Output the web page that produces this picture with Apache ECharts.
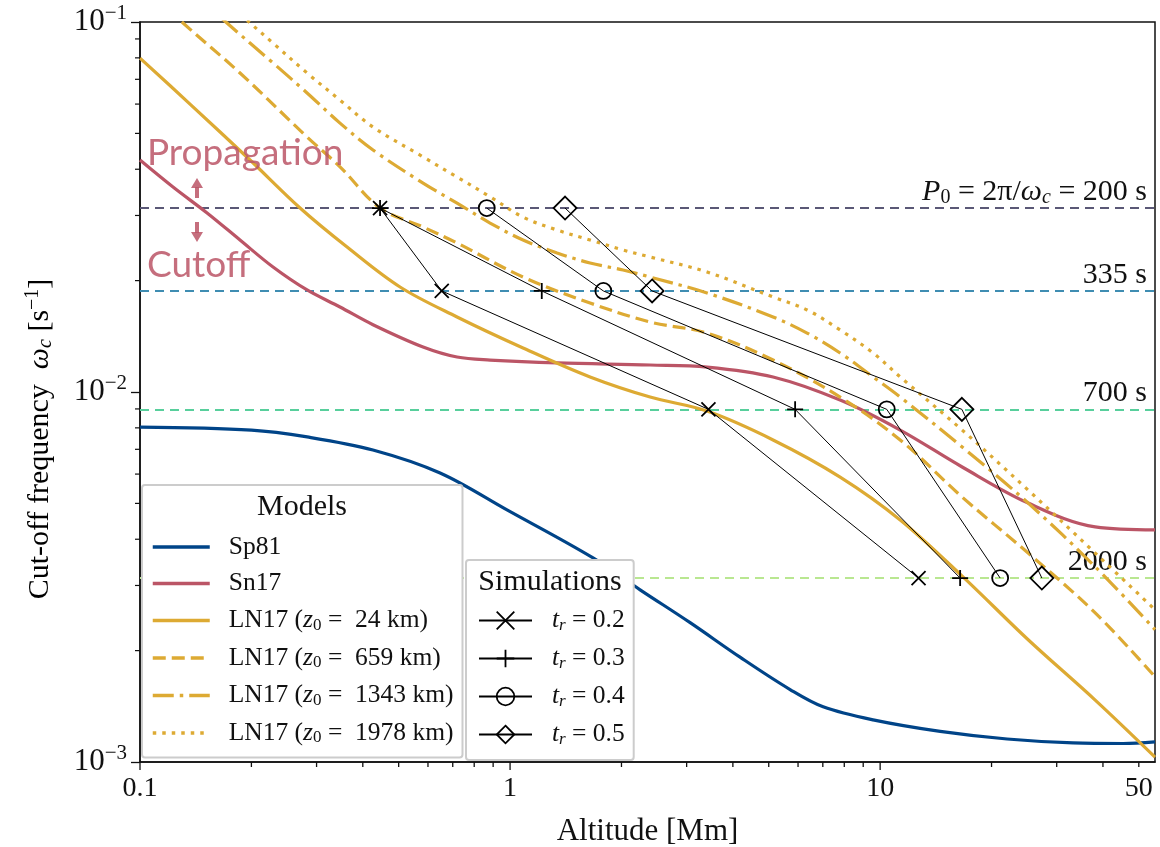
<!DOCTYPE html>
<html>
<head>
<meta charset="utf-8">
<script src="https://cdn.jsdelivr.net/npm/echarts@6.0.0/dist/echarts.min.js"></script>
<style>
html,body{margin:0;padding:0;background:#ffffff;}
#chart{width:1160px;height:847px;}
</style>
</head>
<body>
<div id="chart"></div>
<script>
// ================= DATA =================
const xMin = 0.1, xMax = 55.3, yMin = 0.001, yMax = 0.1;

// Sp81 model
const sp81X = [0.1, 0.2, 0.283, 0.426, 0.647, 0.981, 1.676, 2.246, 3.066, 4.183, 5.711, 7.013, 9.57, 14.53, 22.04, 33.23, 45.37, 55.3];
const sp81Y = [0.00804, 0.00789, 0.00756, 0.00697, 0.00604, 0.0048, 0.00356, 0.00292, 0.00238, 0.00192, 0.00157, 0.00141, 0.0013, 0.00121, 0.001154, 0.001126, 0.001122, 0.001133];

// Sn17 model
const sn17X = [0.1, 0.1228, 0.1518, 0.1863, 0.2288, 0.2828, 0.3471, 0.4262, 0.582, 0.719, 0.883, 1.34, 2.39, 3.406, 5.137, 7.796, 11.33, 16.66, 25.12, 38.12, 55.3];
const sn17Y = [0.04236, 0.03581, 0.03047, 0.02575, 0.02177, 0.01887, 0.01697, 0.0152, 0.01323, 0.01243, 0.0122, 0.01198, 0.01183, 0.01168, 0.01098, 0.00951, 0.00789, 0.00627, 0.00501, 0.00432, 0.00424];

// LN17, z0 = 24 km
const ln24X = [0.1, 0.1365, 0.1983, 0.2707, 0.3627, 0.5043, 0.719, 1.084, 1.645, 2.39, 3.406, 5.137, 7.796, 11.33, 16.66, 25.12, 38.12, 55.3];
const ln24Y = [0.0799, 0.06, 0.04236, 0.03143, 0.02465, 0.01922, 0.01595, 0.01315, 0.01098, 0.00969, 0.00888, 0.00742, 0.00589, 0.00451, 0.00318, 0.00214, 0.00147, 0.001031];

// LN17, z0 = 659 km
const ln659X = [0.1, 0.1307, 0.1863, 0.2828, 0.3471, 0.4453, 0.582, 0.719, 1.084, 1.645, 2.39, 3.406, 5.137, 7.796, 11.33, 16.66, 25.12, 38.12, 55.3];
const ln659Y = [0.1274, 0.0994, 0.0728, 0.0489, 0.0406, 0.03143, 0.02792, 0.02527, 0.02045, 0.0174, 0.01546, 0.01443, 0.0122, 0.00969, 0.00742, 0.0052, 0.00367, 0.00253, 0.0017];

// LN17, z0 = 1343 km
const ln1343X = [0.1, 0.1718, 0.2288, 0.2828, 0.3471, 0.4262, 0.582, 0.719, 0.883, 1.084, 1.34, 1.645, 2.02, 2.39, 3.406, 5.137, 6.348, 7.796, 9.57, 11.33, 16.66, 25.12, 38.12, 55.3];
const ln1343Y = [0.1615, 0.0994, 0.0775, 0.0643, 0.0533, 0.0451, 0.0367, 0.0324, 0.02862, 0.02575, 0.02375, 0.02232, 0.02136, 0.02045, 0.01852, 0.01595, 0.01443, 0.01275, 0.01098, 0.00969, 0.0071, 0.00501, 0.00337, 0.00228];

// LN17, z0 = 1978 km
const ln1978X = [0.1, 0.1983, 0.2288, 0.2828, 0.3471, 0.4262, 0.582, 0.719, 0.883, 1.084, 1.34, 1.645, 2.02, 2.39, 3.406, 5.137, 6.348, 7.796, 9.57, 11.33, 16.66, 25.12, 38.12, 55.3];
const ln1978Y = [0.1817, 0.0994, 0.0877, 0.0728, 0.0615, 0.052, 0.0432, 0.0381, 0.0337, 0.0297, 0.0274, 0.02575, 0.0242, 0.02317, 0.0211, 0.01806, 0.01666, 0.01471, 0.01275, 0.01098, 0.00789, 0.00543, 0.00367, 0.00258];

// Wave periods P0 and the matching cut-off frequencies 2*pi/P0
const periods = [200, 335, 700, 2000];
const cutoffLevels = [0.031416, 0.018756, 0.008976, 0.0031416];

// Simulations: altitudes (Mm) where each period row is reached
const simT02X = [0.4453, 0.6537, 3.436, 12.70];
const simT03X = [0.4453, 1.218, 5.892, 16.45];
const simT04X = [0.865, 1.787, 10.42, 21.10];
const simT05X = [1.408, 2.420, 16.63, 27.35];

// Axis ticks
const xMajorTicks = [0.1, 1, 10];
const xMinorTicks = [0.2, 0.3, 0.4, 0.5, 0.6, 0.7, 0.8, 0.9, 2, 3, 4, 5, 6, 7, 8, 9, 20, 30, 40, 50];
const xTickLabelValues = [0.1, 1, 10, 50];
const xTickLabelTexts = ['0.1', '1', '10', '50'];
const yMinorTicks = [0.002, 0.003, 0.004, 0.005, 0.006, 0.007, 0.008, 0.009, 0.02, 0.03, 0.04, 0.05, 0.06, 0.07, 0.08, 0.09];

// ================= STYLE =================
const SERIF = '"Liberation Serif", "DejaVu Serif", serif';
const GOLD = '#DDAA33', RED = '#BB5566', BLUE = '#004488';
const periodColors = ['#5a5876', '#3f8db2', '#58cf9c', '#b9e791'];

const zip = (xs, ys) => xs.map((x, i) => [x, ys[i]]);
const rowsOf = xs => xs.map((x, i) => [x, cutoffLevels[i]]);

const richBase = {
  n: {fontFamily: SERIF, fontSize: 25.5, color: '#111', lineHeight: 28},
  it: {fontFamily: SERIF, fontSize: 25.5, fontStyle: 'italic', color: '#111', lineHeight: 28},
  sub: {fontFamily: SERIF, fontSize: 17, color: '#111', lineHeight: 18, padding: [10, 0, 0, 0]},
  subi: {fontFamily: SERIF, fontSize: 17, fontStyle: 'italic', color: '#111', lineHeight: 18, padding: [10, 0, 0, 0]}
};
const richBig = {
  n: {fontFamily: SERIF, fontSize: 30, color: '#111', lineHeight: 32},
  it: {fontFamily: SERIF, fontSize: 30, fontStyle: 'italic', color: '#111', lineHeight: 32},
  sub: {fontFamily: SERIF, fontSize: 20, color: '#111', lineHeight: 20, padding: [12, 0, 0, 0]},
  subi: {fontFamily: SERIF, fontSize: 20, fontStyle: 'italic', color: '#111', lineHeight: 20, padding: [12, 0, 0, 0]},
  sup: {fontFamily: SERIF, fontSize: 20, color: '#111', lineHeight: 20, padding: [0, 0, 14, 0]}
};

const modelNames = ['Sp81', 'Sn17', 'LN17_24', 'LN17_659', 'LN17_1343', 'LN17_1978'];
const modelLegendText = {
  'Sp81': '{n|Sp81}',
  'Sn17': '{n|Sn17}',
  'LN17_24': '{n|LN17 (}{it|z}{sub|0}{n| =  24 km)}',
  'LN17_659': '{n|LN17 (}{it|z}{sub|0}{n| =  659 km)}',
  'LN17_1343': '{n|LN17 (}{it|z}{sub|0}{n| =  1343 km)}',
  'LN17_1978': '{n|LN17 (}{it|z}{sub|0}{n| =  1978 km)}'
};
const simNames = ['t02', 't03', 't04', 't05'];
const simLegendText = {
  t02: '{it|t}{subi|r}{n| = 0.2}',
  t03: '{it|t}{subi|r}{n| = 0.3}',
  t04: '{it|t}{subi|r}{n| = 0.4}',
  t05: '{it|t}{subi|r}{n| = 0.5}'
};
const periodLabelTexts = [
  '{it|P}{sub|0}{n| = 2π/}{it|ω}{subi|c}{n| = 200 s}',
  '{n|335 s}', '{n|700 s}', '{n|2000 s}'
];

function modelSeries(name, xs, ys, color, type) {
  return {
    type: 'line', name, data: zip(xs, ys), symbol: 'none', showSymbol: false,
    smooth: 0.35, silent: true, z: 3,
    lineStyle: {color, width: 3.2, type, cap: 'butt'},
    itemStyle: {color}
  };
}
function simSeries(name, xs, symbol, size) {
  return {
    type: 'line', name, data: rowsOf(xs), symbol, symbolSize: size, showAllSymbol: true,
    silent: true, z: 6,
    lineStyle: {color: '#000', width: 1},
    itemStyle: {color: 'none', borderColor: '#000', borderWidth: 1.8}
  };
}

const X_SYM = 'path://M0,0L10,10M10,0L0,10';
const PLUS_SYM = 'path://M5,0L5,10M0,5L10,5';

const option = {
  animation: false,
  backgroundColor: '#ffffff',
  textStyle: {fontFamily: SERIF},
  grid: {left: 140, top: 22, right: 5, bottom: 85, show: true, borderColor: '#111', borderWidth: 1.5, containLabel: false, outerBoundsMode: 'none'},
  xAxis: {
    type: 'log', logBase: 10, min: xMin, max: xMax,
    axisLine: {show: true, lineStyle: {color: '#111', width: 1.5}},
    axisTick: {show: false}, axisLabel: {show: false}, splitLine: {show: false},
    name: 'Altitude [Mm]', nameLocation: 'middle', nameGap: 54,
    nameTextStyle: {fontFamily: SERIF, fontSize: 31, color: '#111'}
  },
  yAxis: {
    type: 'log', logBase: 10, min: yMin, max: yMax,
    axisLine: {show: true, lineStyle: {color: '#111', width: 1.5}},
    axisTick: {show: true, length: 9, lineStyle: {color: '#111', width: 1.3}},
    splitLine: {show: false},
    axisLabel: {
      margin: 13,
      formatter: v => '{b|10}{s|−' + Math.abs(Math.round(Math.log10(v))) + '}',
      rich: {
        b: {fontFamily: SERIF, fontSize: 31, color: '#111', lineHeight: 32},
        s: {fontFamily: SERIF, fontSize: 21, color: '#111', lineHeight: 21, padding: [0, 0, 18, 0]}
      }
    }
  },
  legend: [
    {
      data: modelNames, orient: 'vertical', left: 142, top: 485, z: 20,
      padding: [49, 9, 11, 9], itemWidth: 57, itemHeight: 14, itemGap: 10.5,
      borderColor: '#cccccc', borderWidth: 2, borderRadius: 3, backgroundColor: '#ffffff',
      selectedMode: false, itemStyle: {opacity: 0}, lineStyle: {width: 3.5},
      formatter: n => modelLegendText[n],
      textStyle: {padding: [0, 0, 0, 14], rich: richBase}
    },
    {
      data: simNames, orient: 'vertical', left: 466, top: 560, z: 20,
      padding: [47, 9, 12, 12], itemWidth: 53, itemHeight: 22, itemGap: 11,
      borderColor: '#cccccc', borderWidth: 2, borderRadius: 3, backgroundColor: '#ffffff',
      selectedMode: false, itemStyle: {borderWidth: 1.8},
      formatter: n => simLegendText[n],
      textStyle: {padding: [0, 0, 0, 15], rich: richBase}
    }
  ],
  graphic: [
    {type: 'text', x: 302, y: 507, z: 100, style: {text: 'Models', font: '30px ' + SERIF, fill: '#111', align: 'center', verticalAlign: 'middle'}},
    {type: 'text', x: 550, y: 582, z: 100, style: {text: 'Simulations', font: '30px ' + SERIF, fill: '#111', align: 'center', verticalAlign: 'middle'}},
    {type: 'text', x: 40, y: 439, rotation: Math.PI / 2, z: 100,
      style: {text: '{n|Cut-off frequency  }{it|ω}{subi|c}{n| [s}{sup|−1}{n|]}', rich: richBig, align: 'center', verticalAlign: 'middle'}},
    {type: 'text', x: 147, y: 153, z: 100, style: {text: 'Propagation', font: '37px Lato', fill: RED, opacity: 0.85, align: 'left', verticalAlign: 'middle'}},
    {type: 'text', x: 147, y: 265, z: 100, style: {text: 'Cutoff', font: '37px Lato', fill: RED, opacity: 0.85, align: 'left', verticalAlign: 'middle'}},
    {type: 'polygon', z: 100, shape: {points: [[191, 188], [203, 188], [197, 178]]}, style: {fill: RED, opacity: 0.85}},
    {type: 'rect', z: 100, shape: {x: 195, y: 187, width: 4, height: 11}, style: {fill: RED, opacity: 0.85}},
    {type: 'polygon', z: 100, shape: {points: [[191, 232], [203, 232], [197, 242]]}, style: {fill: RED, opacity: 0.85}},
    {type: 'rect', z: 100, shape: {x: 195, y: 222, width: 4, height: 11}, style: {fill: RED, opacity: 0.85}}
  ],
  series: [
    {
      type: 'line', name: 'periods', data: [], silent: true, z: 2,
      markLine: {
        silent: true, symbol: ['none', 'none'], animation: false, precision: 8, z: 2,
        data: cutoffLevels.map((v, i) => ({
          yAxis: v,
          lineStyle: {color: periodColors[i], width: 2, type: [9, 6]},
          label: {show: true, position: 'insideEndTop', distance: [8, 0], formatter: periodLabelTexts[i], rich: richBig}
        }))
      }
    },
    modelSeries('Sp81', sp81X, sp81Y, BLUE, 'solid'),
    modelSeries('Sn17', sn17X, sn17Y, RED, 'solid'),
    modelSeries('LN17_24', ln24X, ln24Y, GOLD, 'solid'),
    modelSeries('LN17_659', ln659X, ln659Y, GOLD, [13, 6]),
    modelSeries('LN17_1343', ln1343X, ln1343Y, GOLD, [21, 6, 3.5, 6]),
    modelSeries('LN17_1978', ln1978X, ln1978Y, GOLD, [3.5, 6]),
    simSeries('t02', simT02X, X_SYM, 14),
    simSeries('t03', simT03X, PLUS_SYM, 16),
    simSeries('t04', simT04X, 'circle', 16),
    simSeries('t05', simT05X, 'diamond', 23),
    {
      type: 'custom', name: 'xticks', silent: true, clip: false, z: 10,
      data: xMajorTicks.map(v => [v, yMin, 1]).concat(xMinorTicks.map(v => [v, yMin, 0])),
      renderItem: (params, api) => {
        const p = api.coord([api.value(0), api.value(1)]);
        const len = api.value(2) ? 8 : 5;
        return {type: 'line', shape: {x1: p[0], y1: p[1], x2: p[0], y2: p[1] + len}, style: {stroke: '#111', lineWidth: 1.3}};
      }
    },
    {
      type: 'custom', name: 'xlabels', silent: true, clip: false, z: 10,
      data: xTickLabelValues.map((v, i) => [v, yMin, i]),
      renderItem: (params, api) => {
        const p = api.coord([api.value(0), api.value(1)]);
        return {type: 'text', x: p[0], y: p[1] + 13,
          style: {text: xTickLabelTexts[api.value(2)], font: '28px ' + SERIF, fill: '#111', align: 'center', verticalAlign: 'top'}};
      }
    },
    {
      type: 'custom', name: 'yticks', silent: true, clip: false, z: 10,
      data: yMinorTicks.map(v => [xMin, v]),
      renderItem: (params, api) => {
        const p = api.coord([api.value(0), api.value(1)]);
        return {type: 'line', shape: {x1: p[0], y1: p[1], x2: p[0] - 5, y2: p[1]}, style: {stroke: '#111', lineWidth: 1.2}};
      }
    }
  ]
};

const chart = echarts.init(document.getElementById('chart'), null, {renderer: 'canvas'});
chart.setOption(option);
</script>
</body>
</html>
